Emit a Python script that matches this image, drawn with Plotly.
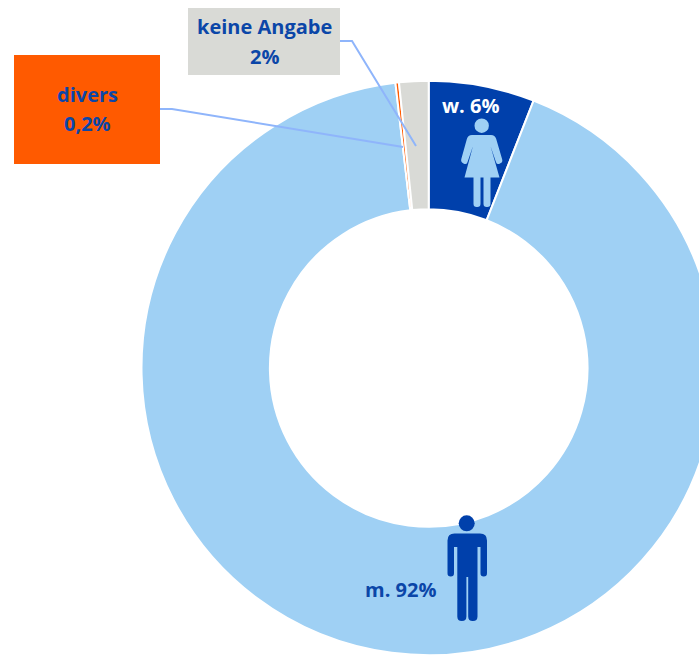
import math
import plotly.graph_objects as go

# Data
categories = ["w.", "m.", "divers", "keine Angabe"]
shares = [5.95, 92.2, 0.2, 1.65]
slice_colors = ["#0040AB", "#9FD0F4", "#FF5A00", "#D9DAD6"]

BLUE = "#0B46A8"
FONT = "Open Sans"
W, H = 718, 657
CX, CY, R = 428.7, 368, 287.2


def px(x):
    return x / W


def py(y):
    return 1 - y / H


fig = go.Figure(
    go.Pie(
        labels=categories,
        values=shares,
        hole=158.8 / 287.2,
        sort=False,
        direction="clockwise",
        rotation=0,
        textinfo="none",
        hoverinfo="label+percent",
        showlegend=False,
        marker=dict(colors=slice_colors, line=dict(color="white", width=2)),
        domain=dict(x=[px(CX - R), px(CX + R)], y=[py(CY + R), py(CY - R)]),
    )
)

shapes = []


def rect(x0, y0, x1, y1, color):
    shapes.append(dict(type="rect", xref="paper", yref="paper", x0=px(x0), x1=px(x1),
                       y0=py(y1), y1=py(y0), fillcolor=color, line_width=0))


def circle(cx, cy, r, color):
    shapes.append(dict(type="circle", xref="paper", yref="paper", x0=px(cx - r), x1=px(cx + r),
                       y0=py(cy + r), y1=py(cy - r), fillcolor=color, line_width=0))


def rounded(points, color):
    """Closed outline; each point is (x, y, corner radius)."""
    n = len(points)
    parts = []
    for i in range(n):
        x, y, r = points[i]
        xa, ya, _ = points[i - 1]
        xb, yb, _ = points[(i + 1) % n]
        la = math.hypot(xa - x, ya - y) or 1
        lb = math.hypot(xb - x, yb - y) or 1
        ra = min(r, la / 2)
        rb = min(r, lb / 2)
        p0 = (x + (xa - x) * ra / la, y + (ya - y) * ra / la)
        p1 = (x + (xb - x) * rb / lb, y + (yb - y) * rb / lb)
        parts.append(f"{'M' if i == 0 else 'L'}{px(p0[0]):.5f},{py(p0[1]):.5f}")
        parts.append(f"Q{px(x):.5f},{py(y):.5f} {px(p1[0]):.5f},{py(p1[1]):.5f}")
    shapes.append(dict(type="path", xref="paper", yref="paper", path=" ".join(parts) + " Z",
                       fillcolor=color, line_width=0))


def leader(points):
    d = "M" + " L".join(f"{px(x):.5f},{py(y):.5f}" for x, y in points)
    shapes.append(dict(type="path", xref="paper", yref="paper", path=d,
                       line=dict(color="#8FB5FB", width=2)))


rect(188, 8, 340, 75, "#D9DAD6")
rect(14, 55, 160, 164, "#FF5A00")
leader([(340, 41), (352, 41), (416, 146)])
leader([(160, 109), (172, 109), (403, 147)])

# Woman icon
WC = "#9FD0F4"
circle(481.7, 125.7, 7.2, WC)
rounded([(468, 135, 4), (495, 135, 4), (503, 162, 3), (497, 165, 3), (490.5, 146, 0.5),
         (499.5, 177.5, 0), (490.5, 177.5, 0), (490.5, 207, 3.2), (483.5, 207, 3.2), (483.5, 177.5, 0),
         (480.5, 177.5, 0), (480.5, 207, 3.2), (473.5, 207, 3.2), (473.5, 177.5, 0), (464.5, 177.5, 0),
         (473, 146, 0.5), (466.5, 165, 3), (460.5, 162, 3)], WC)

# Man icon
MC = "#0040AB"
circle(466.7, 523.3, 8, MC)
rounded([(447.5, 533.5, 7), (487, 533.5, 7), (487, 576.5, 3.2), (480.5, 576.5, 3.2), (480.5, 547, 0),
         (477.5, 547, 0), (477.5, 621, 4.5), (468.2, 621, 4.5), (468.2, 577, 0), (466.4, 577, 0),
         (466.4, 621, 4.5), (457.3, 621, 4.5), (457.3, 547, 0), (454, 547, 0),
         (454, 576.5, 3.2), (447.5, 576.5, 3.2)], MC)

labels_text = [
    ("keine Angabe", 264, 26.5, BLUE),
    ("2%", 264, 56.5, BLUE),
    ("divers", 87, 94.5, BLUE),
    ("0,2%", 87, 123.5, BLUE),
    ("w. 6%", 470, 105.5, "white"),
    ("m. 92%", 400, 589.5, BLUE),
]
annotations = [
    dict(text=f"<b>{t}</b>", x=px(x), y=py(y), xref="paper", yref="paper", showarrow=False,
         xanchor="center", yanchor="middle", font=dict(family=FONT, size=20, color=c))
    for t, x, y, c in labels_text
]

fig.update_layout(
    width=W,
    height=H,
    autosize=False,
    margin=dict(l=0, r=0, t=0, b=0),
    paper_bgcolor="white",
    shapes=shapes,
    annotations=annotations,
)

fig.write_html(
    "out.html",
    config=dict(displayModeBar=False),
    post_script="document.documentElement.style.overflow='hidden';document.body.style.margin='0';document.body.style.overflow='hidden';",
)
